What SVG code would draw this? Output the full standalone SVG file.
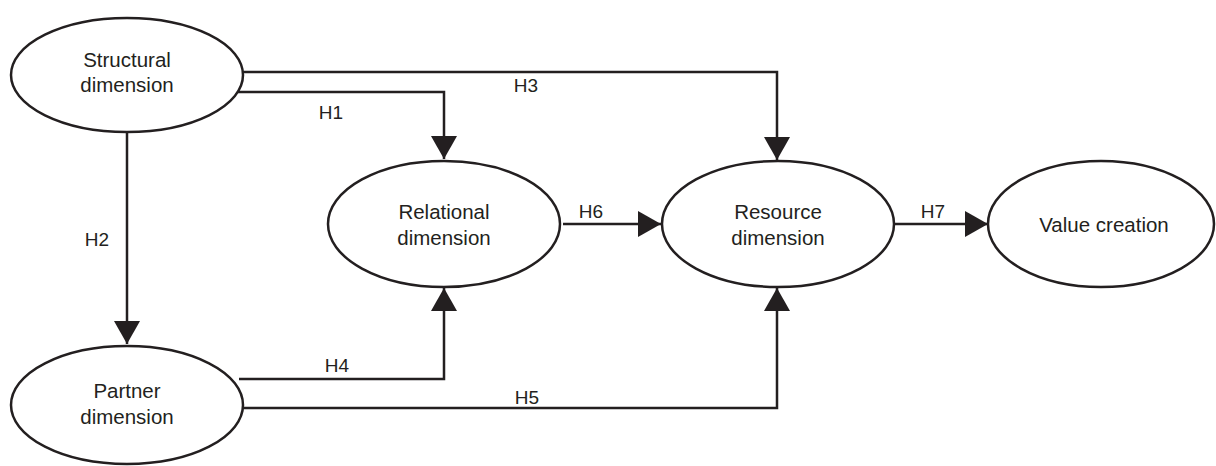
<svg xmlns="http://www.w3.org/2000/svg" width="1216" height="466" viewBox="0 0 1216 466">
<defs>
<style>
.n{fill:#fff;stroke:#231f20;stroke-width:2.5}
.t{font-family:"Liberation Sans",Arial,sans-serif;font-size:20.5px;fill:#231f20;text-anchor:middle}
.l{font-family:"Liberation Sans",Arial,sans-serif;font-size:19px;fill:#231f20;text-anchor:middle}
.c{fill:none;stroke:#231f20;stroke-width:2.5}
</style>
<marker id="ah" markerUnits="userSpaceOnUse" markerWidth="24" markerHeight="26" viewBox="0 0 23 26" refX="23" refY="13" orient="auto">
<path d="M0,0 L23,13 L0,26 Z" fill="#231f20"/>
</marker>
</defs>
<rect width="1216" height="466" fill="#fff"/>
<g id="connectors">
<path class="c" d="M243,72 H777 V160" marker-end="url(#ah)"/>
<path class="c" d="M238,92 H444 V159" marker-end="url(#ah)"/>
<path class="c" d="M127,132 V344" marker-end="url(#ah)"/>
<path class="c" d="M239,379 H444 V288" marker-end="url(#ah)"/>
<path class="c" d="M243,408 H777 V288" marker-end="url(#ah)"/>
<path class="c" d="M563,224 H661" marker-end="url(#ah)"/>
<path class="c" d="M895,224 H988" marker-end="url(#ah)"/>
<text class="l" x="331" y="119">H1</text>
<text class="l" x="97" y="246">H2</text>
<text class="l" x="526" y="92">H3</text>
<text class="l" x="337" y="372">H4</text>
<text class="l" x="527" y="404">H5</text>
<text class="l" x="591" y="218">H6</text>
<text class="l" x="933" y="218">H7</text>
</g>
<g id="structural">
<ellipse class="n" cx="127" cy="75" rx="116" ry="57"/>
<text class="t" x="127" y="67">Structural</text>
<text class="t" x="127" y="92">dimension</text>
</g>
<g id="partner">
<ellipse class="n" cx="127" cy="405" rx="116" ry="59"/>
<text class="t" x="127" y="398">Partner</text>
<text class="t" x="127" y="424">dimension</text>
</g>
<g id="relational">
<ellipse class="n" cx="444" cy="224" rx="116" ry="63"/>
<text class="t" x="444" y="219">Relational</text>
<text class="t" x="444" y="245">dimension</text>
</g>
<g id="resource">
<ellipse class="n" cx="778" cy="224" rx="116" ry="63"/>
<text class="t" x="778" y="219">Resource</text>
<text class="t" x="778" y="245">dimension</text>
</g>
<g id="value">
<ellipse class="n" cx="1101" cy="224" rx="113" ry="63"/>
<text class="t" x="1104" y="232">Value creation</text>
</g>
</svg>
